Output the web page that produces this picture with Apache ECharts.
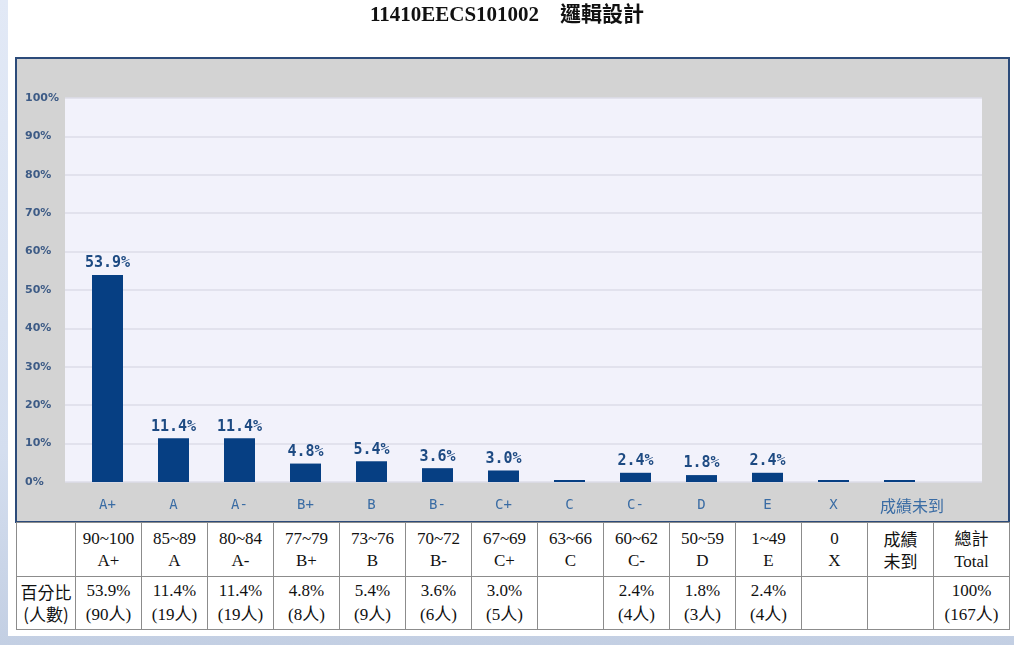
<!DOCTYPE html>
<html>
<head>
<meta charset="utf-8">
<script src="https://cdn.jsdelivr.net/npm/echarts@6/dist/echarts.min.js"></script>
<style>
  html, body { margin: 0; padding: 0; }
  body { width: 1014px; height: 645px; position: relative; overflow: hidden;
         background: linear-gradient(180deg, #e2e9f6 0%, #d4deef 70%, #c3cfe3 100%); }
  #page { position: absolute; left: 8px; top: 0; width: 1006px; height: 636px; background: #fff; }
  #box { position: absolute; left: 15px; top: 57px; width: 995px; height: 466px; box-sizing: border-box;
         border: 2px solid #2c4b7a; background: #d3d3d3; }
  #chart { position: absolute; left: 0; top: 0; width: 1014px; height: 522px; }
  #tbl { position: absolute; left: 16px; top: 522px; border-collapse: collapse; background: #fff;
         font-family: "Liberation Serif", "Times New Roman", serif; font-size: 17px; color: #111; }
  #tbl td { border: 1px solid #8c8c8c; text-align: center; vertical-align: middle; padding: 0;
            line-height: 22px; }
  #tbl tr.r1 td { height: 53px; }
  #tbl tr.r2 td { height: 52px; }
  #tbl .cjk { font-family: "Noto Sans CJK TC", sans-serif; }
</style>
</head>
<body>
<div id="page"></div>
<div id="box"></div>
<div id="chart"></div>
<table id="tbl"></table>
<script>
const categories = ['A+', 'A', 'A-', 'B+', 'B', 'B-', 'C+', 'C', 'C-', 'D', 'E', 'X', '成績未到'];
const percents = [53.9, 11.4, 11.4, 4.8, 5.4, 3.6, 3.0, 0, 2.4, 1.8, 2.4, 0, 0];
const counts = [90, 19, 19, 8, 9, 6, 5, 0, 4, 3, 4, 0, 0];
const ranges = ['90~100', '85~89', '80~84', '77~79', '73~76', '70~72', '67~69', '63~66', '60~62', '50~59', '1~49', '0', ''];
const gradeNames = ['A+', 'A', 'A-', 'B+', 'B', 'B-', 'C+', 'C', 'C-', 'D', 'E', 'X', ''];
const totalCount = 167;
const yTicks = [0, 10, 20, 30, 40, 50, 60, 70, 80, 90, 100];

// ---- table ----
const tbl = document.getElementById('tbl');
const widths = [59].concat(categories.map(() => 66)).concat([76]);
let cg = '<colgroup>' + widths.map(w => '<col style="width:' + w + 'px">').join('') + '</colgroup>';
let r1 = '<tr class="r1"><td></td>';
let r2 = '<tr class="r2"><td class="cjk">百分比<br>(人數)</td>';
categories.forEach((c, i) => {
  if (i === categories.length - 1) {
    r1 += '<td class="cjk">成績<br>未到</td>';
  } else {
    r1 += '<td>' + ranges[i] + '<br>' + gradeNames[i] + '</td>';
  }
  if (counts[i] > 0) {
    r2 += '<td>' + percents[i].toFixed(1) + '%<br>(' + counts[i] + '<span class="cjk">人</span>)</td>';
  } else {
    r2 += '<td></td>';
  }
});
r1 += '<td><span class="cjk">總計</span><br>Total</td></tr>';
r2 += '<td>100%<br>(' + totalCount + '<span class="cjk">人</span>)</td></tr>';
tbl.style.width = widths.reduce((a, b) => a + b, 0) + 'px';
tbl.style.tableLayout = 'fixed';
tbl.innerHTML = cg + r1 + r2;

// ---- chart ----
const chart = echarts.init(document.getElementById('chart'), null, { renderer: 'canvas' });
const monoFont = '"DejaVu Sans Mono", "Liberation Mono", monospace';
chart.setOption({
  animation: false,
  backgroundColor: 'transparent',
  title: {
    text: '11410EECS101002　邏輯設計',
    left: 'center',
    top: 5,
    padding: [0, 0, 0, 10],
    textStyle: { fontFamily: '"Liberation Serif", "Noto Sans CJK TC", serif', fontSize: 21, fontWeight: 'bold', color: '#111' }
  },
  grid: [
    { left: 74.5, right: 81.5, top: 98, bottom: 40, show: false },
    { left: 65, right: 32, top: 98, bottom: 40, show: true, backgroundColor: '#f2f2fb', borderWidth: 0, z: 0 }
  ],
  xAxis: [
    {
      type: 'category', gridIndex: 0, data: categories,
      axisLine: { show: false }, axisTick: { show: false },
      axisLabel: {
        interval: 0, margin: 16, color: '#3a6ca4', fontFamily: monoFont, fontSize: 14,
        formatter: function (v, i) { return i === categories.length - 1 ? '{o|' + v + '}' : v; },
        rich: { o: { padding: [0, 0, 0, 25], color: '#3a6ca4', fontFamily: '"Noto Sans CJK TC", sans-serif', fontSize: 16 } }
      }
    },
    { type: 'value', gridIndex: 1, show: false, min: 0, max: 1 }
  ],
  yAxis: [
    { type: 'value', gridIndex: 0, min: 0, max: 100, interval: 10, show: false },
    {
      type: 'value', gridIndex: 1, min: yTicks[0], max: yTicks[yTicks.length - 1], interval: 10,
      axisLine: { show: false }, axisTick: { show: false },
      splitLine: { show: true, lineStyle: { color: '#dcdce9', width: 1.5 } },
      axisLabel: {
        margin: 40, align: 'left', color: '#3d5b86', fontFamily: '"DejaVu Sans", Verdana, sans-serif',
        fontSize: 11, fontWeight: 'bold', formatter: '{value}%', verticalAlign: 'middle',
        lineHeight: 12, padding: [0, 0, 4, 0]
      }
    }
  ],
  series: [{
    type: 'bar', xAxisIndex: 0, yAxisIndex: 0, data: percents,
    barWidth: 31, barMinHeight: 2, z: 5,
    itemStyle: { color: '#063f83' },
    label: {
      show: true, position: 'top', distance: 4,
      color: '#1d4a82', fontFamily: monoFont, fontWeight: 'bold', fontSize: 15,
      formatter: function (p) { return p.value > 0 ? p.value.toFixed(1) + '%' : ''; }
    }
  }]
});
</script>
</body>
</html>
